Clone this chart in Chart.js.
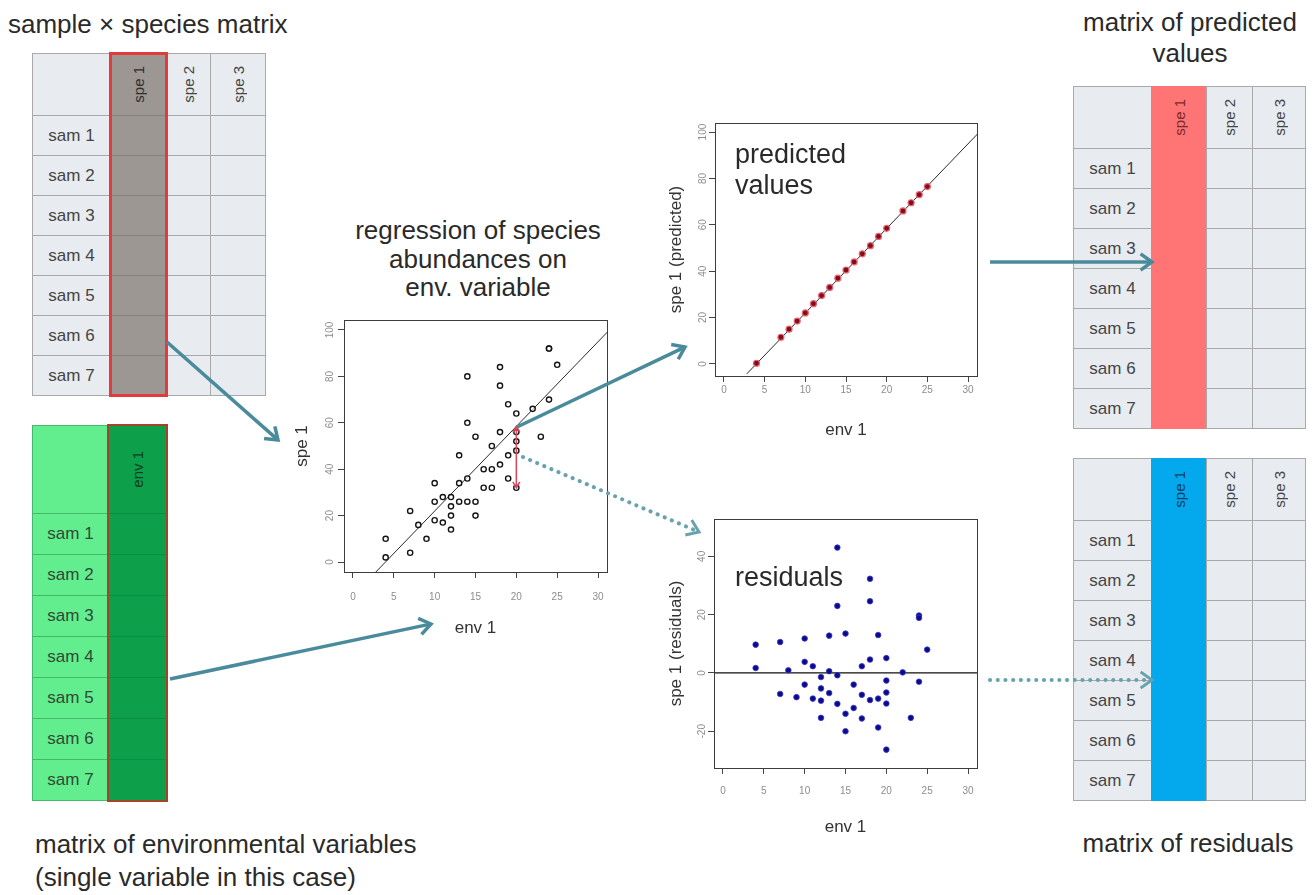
<!DOCTYPE html>
<html>
<head>
<meta charset="utf-8">
<script src="https://cdn.jsdelivr.net/npm/chart.js@4.4.1/dist/chart.umd.min.js"></script>
<style>
  body { margin: 0; background: #fff; font-family: "Liberation Sans", Arial, sans-serif; color: #2a2a2a; }
  #page { position: relative; width: 1316px; height: 895px; overflow: hidden; }
  .txt { position: absolute; font-size: 26px; white-space: nowrap; }
  .cell { position: absolute; box-sizing: border-box; display: flex; align-items: center; justify-content: center; font-size: 17px; color: #454545; }
  .vert { writing-mode: vertical-rl; transform: rotate(180deg); font-size: 15px; }
  .plot { position: absolute; }
  #arrows { position: absolute; left: 0; top: 0; z-index: 10; pointer-events: none; }
</style>
</head>
<body>
<div id="page">
  <div class="txt" style="left:8px;top:9px;line-height:30px;">sample × species matrix</div>
  <div class="txt" style="left:1040px;top:7px;width:300px;text-align:center;line-height:31px;">matrix of predicted<br>values</div>
  <div class="txt" style="left:328px;top:216px;width:300px;text-align:center;line-height:28.5px;">regression of species<br>abundances on<br>env. variable</div>
  <div class="txt" style="left:35px;top:828px;line-height:33px;">matrix of environmental variables<br>(single variable in this case)</div>
  <div class="txt" style="left:1038px;top:828px;width:300px;text-align:center;line-height:30px;">matrix of residuals</div>
  <div class="txt" style="left:735px;top:139px;font-size:27px;line-height:31px;z-index:5;">predicted<br>values</div>
  <div class="txt" style="left:735px;top:562px;font-size:27px;line-height:31px;z-index:5;">residuals</div>

  <canvas id="chartObserved" class="plot" width="334" height="332" style="left:286px;top:310px;"></canvas>
  <canvas id="chartPredicted" class="plot" width="330" height="334" style="left:660px;top:113px;"></canvas>
  <canvas id="chartResiduals" class="plot" width="330" height="334" style="left:660px;top:509px;"></canvas>

  <svg id="arrows" width="1316" height="895"></svg>
</div>

<script>
const samples = ['sam 1', 'sam 2', 'sam 3', 'sam 4', 'sam 5', 'sam 6', 'sam 7'];
const species = ['spe 1', 'spe 2', 'spe 3'];
const envVars = ['env 1'];

const xTicks = [0, 5, 10, 15, 20, 25, 30];
const abundTicks = [0, 20, 40, 60, 80, 100];
const residTicks = [-20, 0, 20, 40];

// observed env 1 / spe 1 pairs (same order in the residual list)
const env1 = [4, 4, 7, 7, 8, 9, 10, 10, 10, 11, 11, 12, 12, 12, 12, 13, 13, 13, 14, 14, 14, 14,
    15, 15, 15, 16, 16, 17, 17, 17, 18, 18, 18, 18, 19, 19, 19, 20, 20, 20, 20, 20, 22, 23, 24, 24, 24, 25];
const spe1 = [10, 2, 22, 4, 16, 10, 34, 26, 18, 28, 17, 28, 24, 20, 14, 46, 34, 26, 80, 60, 36, 26,
    54, 26, 20, 40, 32, 50, 40, 32, 84, 76, 56, 42, 68, 46, 36, 64, 56, 52, 48, 32, 66, 54, 92, 92, 70, 85];
const spe1Resid = [9.7, 1.7, 10.6, -7.2, 0.9, -8.3, 11.8, 3.8, -4, 2.3, -8.8, -1.4, -5.3, -9.5, -15.4,
    12.8, 0.6, -6.9, 43, 23, -0.8, -10.6, 13.5, -14, -20, -4, -12, 2.3, -7.5, -15.6, 32.3, 24.6, 4.6, -9.3,
    13, -8.8, -18.7, 5.1, -2.6, -6.7, -10.5, -26.3, 0.2, -15.4, 19.7, 18.9, -3, 8];

// fitted values, one per env level
const envLevels = [4, 7, 8, 9, 10, 11, 12, 13, 14, 15, 16, 17, 18, 19, 20, 22, 23, 24, 25];
const spe1Pred = [0.3, 11.5, 15, 18.5, 22, 26, 29.5, 33, 37, 40.5, 44, 47.5, 51, 55, 58.5, 66, 69.5, 73, 76.5];

// ends of the regression line where it leaves the plot box
const fitLineX = [2.8, 31.2];
const fitLineY = [-4.3, 99.3];

// the red residual arrow in the first plot
const residArrow = { x: 20, from: 32, to: 58.5 };


// ---------- tables ----------
const page = document.getElementById('page');

function addCell(x, y, w, h, bg, border, html, textColor) {
    let d = document.createElement('div');
    d.className = 'cell';
    d.style.left = x + 'px';
    d.style.top = y + 'px';
    d.style.width = (w + 1) + 'px';
    d.style.height = (h + 1) + 'px';
    d.style.background = bg;
    d.style.border = '1px solid ' + border;
    if (textColor) d.style.color = textColor;
    d.innerHTML = html;
    page.appendChild(d);
}

function buildTable(t) {
    let xs = [t.left];
    t.colW.forEach(w => xs.push(xs[xs.length - 1] + w));
    for (let c = 0; c < t.colW.length; c++) {
        let head = c === 0 ? '' : `<span class="vert">${t.cols[c - 1]}</span>`;
        addCell(xs[c], t.top, t.colW[c], t.headH, t.bg[c], t.line[c], head, t.ink[c]);
        for (let r = 0; r < samples.length; r++) {
            let y = t.top + t.headH + r * t.rowH;
            addCell(xs[c], y, t.colW[c], t.rowH, t.bg[c], t.line[c], c === 0 ? samples[r] : '', t.ink[c]);
        }
    }
    if (t.outline) {
        let o = document.createElement('div');
        o.style.cssText = `position:absolute;box-sizing:border-box;left:${xs[1] - 1}px;top:${t.top - 1}px;` +
            `width:${t.colW[1] + 3}px;height:${t.headH + t.rowH * samples.length + 3}px;border:${t.outline}`;
        page.appendChild(o);
    }
}

const greyCell = '#e8ebef', greyLine = '#a9a9a9';

buildTable({
    left: 32, top: 53, colW: [78, 56, 44, 55], headH: 62, rowH: 40, cols: species,
    bg: [greyCell, '#9c9793', greyCell, greyCell], line: [greyLine, '#85807c', greyLine, greyLine],
    ink: ['#454545', '#2e2e2e', '#454545', '#454545'], outline: '3px solid #e53a3c'
});
buildTable({
    left: 32, top: 425, colW: [76, 58], headH: 88, rowH: 41, cols: envVars,
    bg: ['#62ee8e', '#0e9f4b'], line: ['#45b96b', '#0b8e42'],
    ink: ['#2f4a35', '#0c4020'], outline: '2px solid #a4442a'
});
buildTable({
    left: 1073, top: 86, colW: [78, 55, 46, 53], headH: 62, rowH: 40, cols: species,
    bg: [greyCell, '#ff7474', greyCell, greyCell], line: [greyLine, '#ff7474', greyLine, greyLine],
    ink: ['#454545', '#7a2a2a', '#454545', '#454545']
});
buildTable({
    left: 1073, top: 458, colW: [78, 55, 46, 53], headH: 62, rowH: 40, cols: species,
    bg: [greyCell, '#03a9ec', greyCell, greyCell], line: [greyLine, '#03a9ec', greyLine, greyLine],
    ink: ['#454545', '#0d3f66', '#454545', '#454545']
});


// ---------- R-like scatter plots ----------
const rFrame = {
    id: 'rFrame',
    afterDraw(chart, args, opts) {
        const {ctx, chartArea: a} = chart;
        const y = chart.scales.y;
        ctx.save();
        ctx.strokeStyle = '#3c3c3c';
        ctx.lineWidth = 1;
        ctx.strokeRect(Math.round(a.left) + 0.5, Math.round(a.top) + 0.5,
            Math.round(a.right - a.left), Math.round(a.bottom - a.top));
        ctx.fillStyle = '#8c8c8c';
        ctx.font = '10px "Liberation Sans", Arial';
        ctx.textAlign = 'center';
        ctx.textBaseline = 'middle';
        for (let t of y.ticks) {
            ctx.save();
            ctx.translate(opts.labelX, y.getPixelForValue(t.value));
            ctx.rotate(-Math.PI / 2);
            ctx.fillText(String(t.value), 0, 0);
            ctx.restore();
        }
        ctx.restore();
    }
};

const redArrow = {
    id: 'redArrow',
    afterDatasetsDraw(chart, args, opts) {
        if (!opts.show) return;
        const {ctx, scales: {x, y}} = chart;
        let px = x.getPixelForValue(residArrow.x);
        let y0 = y.getPixelForValue(residArrow.from);
        let y1 = y.getPixelForValue(residArrow.to);
        ctx.save();
        ctx.strokeStyle = '#d9485a';
        ctx.lineWidth = 1.5;
        ctx.beginPath();
        ctx.moveTo(px, y0); ctx.lineTo(px, y1);
        ctx.moveTo(px - 3.5, y1 + 6); ctx.lineTo(px, y1); ctx.lineTo(px + 3.5, y1 + 6);
        ctx.moveTo(px - 3.5, y0 - 6); ctx.lineTo(px, y0); ctx.lineTo(px + 3.5, y0 - 6);
        ctx.stroke();
        ctx.restore();
    }
};

function rPlot(id, g, datasets, yTicks, yRange, yTitle, showArrow) {
    const canvas = document.getElementById(id);
    const cw = canvas.width, ch = canvas.height;
    const tickFont = {family: '"Liberation Sans", Arial', size: 10};
    const titleFont = {family: '"Liberation Sans", Arial', size: 17};
    const half = 17 * 1.2 / 2;
    const tickGrid = {display: true, drawOnChartArea: false, drawTicks: true, tickLength: 6, tickColor: '#444', lineWidth: 1};

    return new Chart(canvas, {
        type: 'scatter',
        data: {datasets: datasets},
        options: {
            responsive: false,
            animation: false,
            events: [],
            layout: {padding: {left: 0, top: g.areaTop, right: cw - g.areaRight, bottom: 0}},
            scales: {
                x: {
                    type: 'linear', min: -1.1, max: 31.1,
                    afterBuildTicks: s => { s.ticks = xTicks.map(v => ({value: v})); },
                    afterFit: s => { s.height = ch - g.areaBottom; },
                    grid: tickGrid,
                    border: {display: false},
                    ticks: {color: '#8c8c8c', font: tickFont, padding: g.xLabelPad, maxRotation: 0},
                    title: {display: true, text: 'env 1', color: '#333', font: titleFont,
                        padding: {top: 0, bottom: ch - g.xTitleY - half}}
                },
                y: {
                    type: 'linear', min: yRange[0], max: yRange[1],
                    afterBuildTicks: s => { s.ticks = yTicks.map(v => ({value: v})); },
                    afterFit: s => { s.width = g.areaLeft; },
                    grid: tickGrid,
                    border: {display: false},
                    ticks: {display: false},
                    title: {display: true, text: yTitle, color: '#333', font: titleFont,
                        padding: {top: g.yTitleX - half, bottom: 0}}
                }
            },
            plugins: {
                legend: {display: false},
                tooltip: {enabled: false},
                rFrame: {labelX: g.yLabelX},
                redArrow: {show: showArrow}
            }
        },
        plugins: [rFrame, redArrow]
    });
}

const fitLine = {
    type: 'line',
    data: fitLineX.map((x, i) => ({x: x, y: fitLineY[i]})),
    borderColor: '#2a2a2a', borderWidth: 1, pointRadius: 0, showLine: true, order: 2
};

rPlot('chartObserved',
    {areaLeft: 58, areaTop: 10, areaRight: 321, areaBottom: 262, xLabelPad: 13, xTitleY: 318, yTitleX: 16, yLabelX: 44},
    [
        {data: env1.map((x, i) => ({x: x, y: spe1[i]})), pointRadius: 2.6, pointBorderWidth: 1.4,
            pointBorderColor: '#151515', pointBackgroundColor: 'rgba(255,255,255,0.6)', order: 1},
        fitLine
    ],
    abundTicks, [-4.3, 104.3], 'spe 1', true);

rPlot('chartPredicted',
    {areaLeft: 55, areaTop: 10, areaRight: 317, areaBottom: 263, xLabelPad: 2, xTitleY: 317, yTitleX: 16, yLabelX: 43},
    [
        {data: envLevels.map((x, i) => ({x: x, y: spe1Pred[i]})), pointRadius: 3, pointBorderWidth: 1.2,
            pointBorderColor: '#f0606e', pointBackgroundColor: '#7a0f1e', order: 1},
        fitLine
    ],
    abundTicks, [-5.2, 103.9], 'spe 1 (predicted)', false);

rPlot('chartResiduals',
    {areaLeft: 54, areaTop: 10, areaRight: 317, areaBottom: 259, xLabelPad: 11, xTitleY: 318, yTitleX: 16, yLabelX: 42},
    [
        {data: env1.map((x, i) => ({x: x, y: spe1Resid[i]})), pointRadius: 2.8, pointBorderWidth: 0.8,
            pointBorderColor: '#3a3ac8', pointBackgroundColor: '#0a0a8a', order: 1},
        {type: 'line', data: [{x: -1.1, y: 0}, {x: 31.1, y: 0}], borderColor: '#111', borderWidth: 1.3,
            pointRadius: 0, showLine: true, order: 2}
    ],
    residTicks, [-32.6, 52.8], 'spe 1 (residuals)', false);


// ---------- teal arrows between panels ----------
const arrows = [
    {from: [167, 342], to: [278, 440], dotted: false},
    {from: [170, 679], to: [431, 624], dotted: false},
    {from: [517, 427], to: [685, 347], dotted: false},
    {from: [523, 457], to: [699, 532], dotted: true},
    {from: [990, 262], to: [1152, 262], dotted: false},
    {from: [990, 680], to: [1152, 680], dotted: true}
];

const svg = document.getElementById('arrows');
const NS = 'http://www.w3.org/2000/svg';

for (let a of arrows) {
    let [x0, y0] = a.from, [x1, y1] = a.to;
    let ang = Math.atan2(y1 - y0, x1 - x0);
    let color = a.dotted ? '#68a2ad' : '#4a8b9b';
    let line = document.createElementNS(NS, 'line');
    line.setAttribute('x1', x0); line.setAttribute('y1', y0);
    line.setAttribute('x2', x1 - Math.cos(ang) * 2); line.setAttribute('y2', y1 - Math.sin(ang) * 2);
    line.setAttribute('stroke', color);
    line.setAttribute('stroke-width', a.dotted ? 4 : 3.5);
    if (a.dotted) {
        line.setAttribute('stroke-dasharray', '0.1 7.6');
        line.setAttribute('stroke-linecap', 'round');
    }
    svg.appendChild(line);

    let len = 14, spread = 0.62;
    let head = document.createElementNS(NS, 'polyline');
    let p1 = [x1 - len * Math.cos(ang - spread), y1 - len * Math.sin(ang - spread)];
    let p2 = [x1 - len * Math.cos(ang + spread), y1 - len * Math.sin(ang + spread)];
    head.setAttribute('points', `${p1[0]},${p1[1]} ${x1},${y1} ${p2[0]},${p2[1]}`);
    head.setAttribute('fill', 'none');
    head.setAttribute('stroke', color);
    head.setAttribute('stroke-width', a.dotted ? 3 : 3.5);
    svg.appendChild(head);
}
</script>
</body>
</html>
